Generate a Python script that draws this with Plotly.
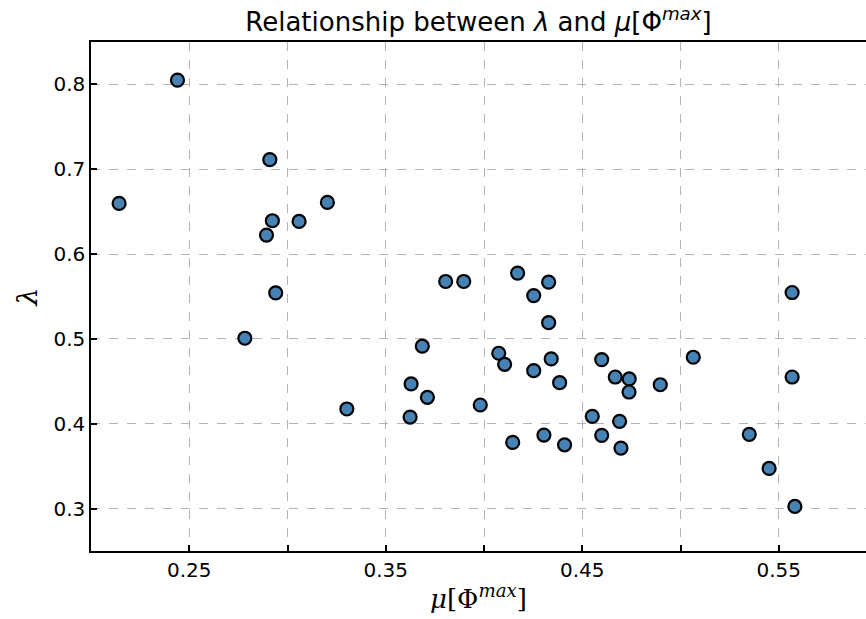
import plotly.graph_objects as go

# mu[Phi^max] values (x) and lambda values (y)
mu_phi_max = [0.2143, 0.2440, 0.2910, 0.2923, 0.2893, 0.3059, 0.3203, 0.2940,
              0.3805, 0.3897, 0.4171, 0.4329, 0.4253, 0.4329, 0.3686, 0.4075,
              0.4105, 0.4342, 0.4253, 0.4385, 0.4599, 0.4668, 0.4739, 0.4738,
              0.4897, 0.3629, 0.3712, 0.3302, 0.3624, 0.3981, 0.4146, 0.4305,
              0.4410, 0.4551, 0.4690, 0.4599, 0.4697, 0.2783, 0.5568, 0.5065,
              0.5568, 0.5350, 0.5451, 0.5582]
lam = [0.6597, 0.8050, 0.7113, 0.6393, 0.6224, 0.6385, 0.6609, 0.5543,
       0.5677, 0.5677, 0.5776, 0.5669, 0.5511, 0.5192, 0.4914, 0.4831,
       0.4701, 0.4764, 0.4626, 0.4484, 0.4756, 0.4551, 0.4528, 0.4374,
       0.4460, 0.4469, 0.4312, 0.4174, 0.4079, 0.4221, 0.3780, 0.3867,
       0.3752, 0.4087, 0.4028, 0.3863, 0.3713, 0.5008, 0.5547, 0.4784,
       0.4551, 0.3875, 0.3473, 0.3025]

x_tick_start = 0.25
x_tick_step = 0.1
x_minor_step = 0.05
y_tickvals = [0.3, 0.4, 0.5, 0.6, 0.7, 0.8]

fig = go.Figure()
fig.add_trace(go.Scatter(
    x=mu_phi_max, y=lam, mode="markers",
    marker=dict(size=13, color="#4682B4", line=dict(color="black", width=2.2)),
    showlegend=False,
))

grid_style = dict(showgrid=True, gridcolor="#b4b4b4", gridwidth=1, griddash="dash")
axis_common = dict(
    showline=True, linecolor="black", linewidth=1.5,
    ticks="inside", ticklen=6, tickwidth=1.5, tickcolor="black",
    zeroline=False,
    tickfont=dict(family="DejaVu Sans", size=20, color="black"),
    **grid_style,
)

fig.update_layout(
    width=866, height=619,
    margin=dict(l=91, r=0, t=42, b=68, autoexpand=False),
    paper_bgcolor="white", plot_bgcolor="white",
    title=dict(
        text="Relationship between <i>λ</i> and <i>μ</i>[Φ<sup><i>max</i></sup>]",
        font=dict(family="DejaVu Sans", size=26, color="black"),
        x=0.5, xref="paper", xanchor="center",
        y=1 - 22 / 619, yref="container", yanchor="middle",
    ),
    xaxis=dict(
        range=[0.2, 0.5944], tick0=x_tick_start, dtick=x_tick_step,
        mirror=True,
        minor=dict(dtick=x_minor_step, tick0=x_tick_start, ticks="inside",
                   ticklen=6, tickwidth=1.5, tickcolor="black", **grid_style),
        title=dict(text="<i>μ</i>[Φ<sup><i>max</i></sup>]",
                   font=dict(family="DejaVu Serif", size=26, color="black"),
                   standoff=9),
        **axis_common,
    ),
    yaxis=dict(
        range=[0.25, 0.85], tickvals=y_tickvals,
        mirror=False,
        title=dict(text="<i>λ</i>",
                   font=dict(family="DejaVu Serif", size=28, color="black"),
                   standoff=8),
        **axis_common,
    ),
)

fig.write_html(
    "out.html",
    config={"displayModeBar": False},
    post_script="document.body.style.margin='0';document.body.style.overflow='hidden';",
)
